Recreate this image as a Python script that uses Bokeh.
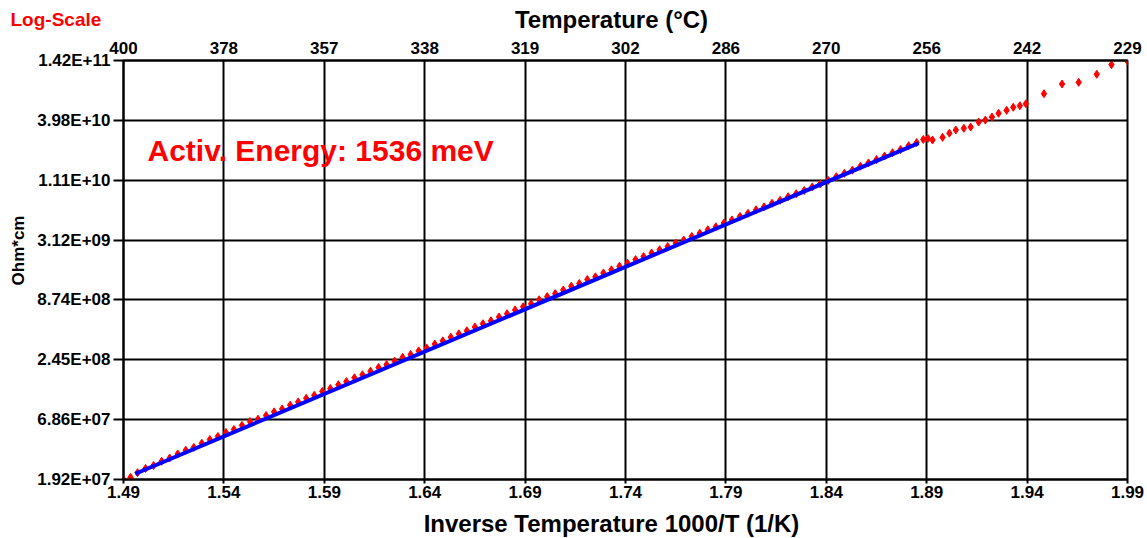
import math
from bokeh.plotting import figure
from bokeh.layouts import column, row
from bokeh.models import (FixedTicker, LinearAxis, CustomJSTickFormatter, Label, Range1d)
from bokeh.embed import file_html
from bokeh.resources import INLINE

# ---------------- data ----------------
x_tick_values = [1.49, 1.54, 1.59, 1.64, 1.69, 1.74, 1.79, 1.84, 1.89, 1.94, 1.99]
x_tick_labels = ["1.49", "1.54", "1.59", "1.64", "1.69", "1.74", "1.79", "1.84", "1.89", "1.94", "1.99"]
temp_tick_labels = ["400", "378", "357", "338", "319", "302", "286", "270", "256", "242", "229"]
y_tick_values = [1.92e7, 6.86e7, 2.45e8, 8.74e8, 3.12e9, 1.11e10, 3.98e10, 1.42e11]
y_tick_labels = ["1.92E+07", "6.86E+07", "2.45E+08", "8.74E+08", "3.12E+09", "1.11E+10", "3.98E+10", "1.42E+11"]

# measured points: inverse temperature 1000/T (1/K)
inv_temp = [
    1.4900, 1.4935,
    1.497, 1.501, 1.505, 1.509, 1.513, 1.517, 1.521, 1.525, 1.529, 1.533,
    1.537, 1.541, 1.545, 1.549, 1.553, 1.557, 1.561, 1.565, 1.569, 1.573,
    1.577, 1.581, 1.585, 1.589, 1.593, 1.597, 1.601, 1.605, 1.609, 1.613,
    1.617, 1.621, 1.625, 1.629, 1.633, 1.637, 1.641, 1.645, 1.649, 1.653,
    1.657, 1.661, 1.665, 1.669, 1.673, 1.677, 1.681, 1.685, 1.689, 1.693,
    1.697, 1.701, 1.705, 1.709, 1.713, 1.717, 1.721, 1.725, 1.729, 1.733,
    1.737, 1.741, 1.745, 1.749, 1.753, 1.757, 1.761, 1.765, 1.769, 1.773,
    1.777, 1.781, 1.785, 1.789, 1.793, 1.797, 1.801, 1.805, 1.809, 1.813,
    1.817, 1.821, 1.825, 1.829, 1.833, 1.837, 1.841, 1.845, 1.849, 1.853,
    1.857, 1.861, 1.865, 1.869, 1.873, 1.877, 1.881, 1.885,
    1.8883, 1.8906, 1.8929, 1.8979, 1.9013, 1.9045, 1.9085, 1.9119, 1.9159, 1.9192,
    1.9225, 1.9258, 1.9298, 1.9331, 1.9364, 1.9394, 1.9484, 1.9574, 1.9657, 1.9747,
    1.9820, 1.9900,
]
# measured resistivity (Ohm*cm)
resistivity = [
    1.92e7, 2.01e7,
    2.22e7, 2.43e7, 2.59e7, 2.83e7, 3.03e7, 3.31e7, 3.58e7, 3.80e7, 4.15e7, 4.49e7,
    4.80e7, 5.22e7, 5.57e7, 6.07e7, 6.58e7, 6.93e7, 7.50e7, 8.09e7, 8.61e7, 9.33e7,
    1.00e8, 1.08e8, 1.15e8, 1.25e8, 1.33e8, 1.44e8, 1.54e8, 1.67e8, 1.78e8, 1.92e8,
    2.08e8, 2.21e8, 2.38e8, 2.58e8, 2.74e8, 2.96e8, 3.15e8, 3.42e8, 3.66e8, 3.96e8,
    4.25e8, 4.54e8, 4.92e8, 5.27e8, 5.61e8, 6.08e8, 6.52e8, 7.06e8, 7.55e8, 8.07e8,
    8.77e8, 9.38e8, 1.00e9, 1.08e9, 1.17e9, 1.24e9, 1.35e9, 1.43e9, 1.55e9, 1.66e9,
    1.79e9, 1.91e9, 2.06e9, 2.20e9, 2.37e9, 2.54e9, 2.72e9, 2.93e9, 3.12e9, 3.37e9,
    3.61e9, 3.89e9, 4.14e9, 4.48e9, 4.79e9, 5.16e9, 5.51e9, 5.94e9, 6.32e9, 6.82e9,
    7.28e9, 7.85e9, 8.36e9, 8.95e9, 9.66e9, 1.03e10, 1.11e10, 1.20e10, 1.29e10, 1.38e10,
    1.50e10, 1.61e10, 1.73e10, 1.86e10, 2.00e10, 2.14e10, 2.32e10, 2.48e10,
    2.65e10, 2.71e10, 2.62e10, 2.77e10, 3.03e10, 3.24e10, 3.36e10, 3.45e10, 3.84e10, 4.00e10,
    4.27e10, 4.62e10, 4.92e10, 5.25e10, 5.43e10, 5.66e10, 7.01e10, 8.61e10, 8.93e10, 1.06e11,
    1.30e11, 1.40e11,
]
# Arrhenius fit line endpoints
fit_inv_temp = [1.4959, 1.8860]
fit_resistivity = [2.17e7, 2.45e10]

FONT = "Liberation Sans"

# ---------------- helpers ----------------
def blank(width, height):
    f = figure(width=width, height=height, x_range=Range1d(0, 1), y_range=Range1d(0, 1),
               x_axis_type=None, y_axis_type=None, output_backend="svg",
               toolbar_location=None, min_border=0,
               background_fill_color="white", border_fill_color="white")
    f.outline_line_color = None
    f.grid.visible = False
    return f

def lab(fig, text, x, y, size, color="black", align="left", angle=0.0):
    fig.add_layout(Label(x=x, y=y, x_units="screen", y_units="screen", text=text,
                         text_font=FONT, text_font_style="bold", text_font_size=size,
                         text_color=color, text_align=align, text_baseline="middle",
                         angle=angle))

# ---------------- header (Log-Scale + top axis title) ----------------
header = blank(1147, 33)
lab(header, "Log-Scale", 10, 14, "19px", color="red")
lab(header, "Temperature (°C)", 611, 14, "24px", align="center")

# ---------------- main plot ----------------
P_H = 472
p = figure(width=1117, height=P_H,
           x_range=Range1d(x_tick_values[0], x_tick_values[-1]),
           y_range=Range1d(y_tick_values[0], y_tick_values[-1]),
           y_axis_type="log", output_backend="svg", toolbar_location=None,
           min_border_left=93, min_border_right=20, min_border_top=27, min_border_bottom=26,
           background_fill_color="white", border_fill_color="white")

# ---------------- left strip (y axis title) ----------------
left = blank(30, P_H)
lab(left, "Ohm*cm", 18, 229, "17px", align="center", angle=math.pi / 2)

# ---------------- footer (x axis title) ----------------
footer = blank(1147, 33)
lab(footer, "Inverse Temperature 1000/T (1/K)", 611, 15, "24px", align="center")

p.outline_line_color = "black"
p.outline_line_width = 2

xt = FixedTicker(ticks=x_tick_values, minor_ticks=[])
yt = FixedTicker(ticks=y_tick_values, minor_ticks=[])

JS_LIN = """
let b = 0, d = Infinity;
for (let i = 0; i < v.length; i++) { const e = Math.abs(v[i] - tick); if (e < d) { d = e; b = i; } }
return l[b];
"""
JS_LOG = """
let b = 0, d = Infinity;
for (let i = 0; i < v.length; i++) { const e = Math.abs(Math.log(v[i]) - Math.log(tick)); if (e < d) { d = e; b = i; } }
return l[b];
"""
x_fmt = CustomJSTickFormatter(args=dict(v=x_tick_values, l=x_tick_labels), code=JS_LIN)
t_fmt = CustomJSTickFormatter(args=dict(v=x_tick_values, l=temp_tick_labels), code=JS_LIN)
y_fmt = CustomJSTickFormatter(args=dict(v=y_tick_values, l=y_tick_labels), code=JS_LOG)

p.xgrid.ticker = xt
p.ygrid.ticker = yt
for g in (p.xgrid[0], p.ygrid[0]):
    g.grid_line_color = "black"
    g.grid_line_width = 2

def style_axis(ax):
    ax.axis_line_color = "black"
    ax.axis_line_width = 2
    ax.major_tick_line_color = "black"
    ax.major_tick_line_width = 2
    ax.major_tick_in = 0
    ax.minor_tick_line_color = None
    ax.major_label_text_font = FONT
    ax.major_label_text_font_style = "bold"
    ax.major_label_text_font_size = "17px"
    ax.major_label_text_color = "black"

xa = p.xaxis[0]
xa.ticker = xt
xa.formatter = x_fmt
style_axis(xa)
xa.major_tick_out = 4
xa.major_label_standoff = 2

ya = p.yaxis[0]
ya.ticker = yt
ya.formatter = y_fmt
style_axis(ya)
ya.major_tick_out = 10
ya.major_label_standoff = 3

top = LinearAxis(ticker=xt, formatter=t_fmt)
style_axis(top)
top.major_tick_out = 0
top.major_label_standoff = 7
p.add_layout(top, "above")

p.scatter(inv_temp, resistivity, marker="diamond", size=8, fill_color="red", line_color="red")
p.line(fit_inv_temp, fit_resistivity, line_width=4, line_color="blue")

lab(p, "Activ. Energy: 1536 meV", 24, 329, "30px", color="red")

layout = column(header, row(left, p), footer)

open("out.html", "w").write(file_html(layout, INLINE))
